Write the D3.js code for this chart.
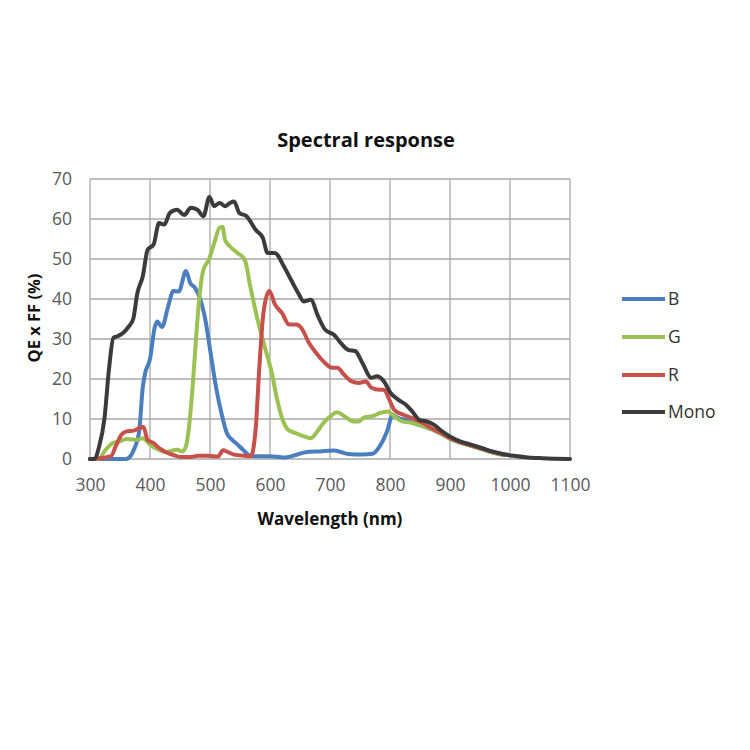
<!DOCTYPE html>
<html><head><meta charset="utf-8">
<script src="https://cdn.jsdelivr.net/npm/d3@7"></script>
<style>body{margin:0;background:#fff}svg{display:block}</style>
</head><body>
<svg id="c" width="750" height="750"></svg>
<script>
const seriesNames = ["B", "G", "R", "Mono"];
const seriesColors = ["#4a7ebf", "#9bc152", "#c8504b", "#3b3b3b"];
const xTicks = [300, 400, 500, 600, 700, 800, 900, 1000, 1100];
const yTicks = [0, 10, 20, 30, 40, 50, 60, 70];

const blue = [[300,0],[360,0],[368,0.8],[373,2.3],[382,7],[388,18],[392,21.5],[400,25],[408,33],[412,34.4],[420,33],[430,38],[439,42],[448,41.9],[460,47],[467,44],[474,43],[483,40.3],[492,35],[501,26.5],[510,18],[519,11.5],[528,6.5],[537,4.8],[546,3.6],[555,2.3],[567,0.8],[576,0.7],[600,0.7],[623,0.4],[647,1.2],[659,1.7],[683,1.9],[707,2.1],[718,1.75],[730,1.25],[754,1.1],[771,1.3],[783,3.2],[796,7.3],[804,11],[814,10.2],[826,9.8],[840,9],[855,8.2],[870,7.4],[887,6.2],[900,5.1],[917,4.1],[935,3.3],[953,2.5],[970,1.7],[990,1.0]];
const green = [[300,0],[314,0],[326,2.3],[338,4],[349,4.4],[361,5],[379,4.8],[388,5.2],[400,3.6],[415,2.3],[427,1.7],[436,2.1],[445,2.3],[454,1.9],[460,3.2],[465,8],[471,18],[477,30.7],[483,41.5],[489,47.3],[498,49.8],[507,54],[516,57.8],[521,58],[525,54.8],[533,53.2],[546,51.5],[558,49.8],[567,43.2],[579,35],[591,28.2],[603,21.5],[612,14.8],[621,9.8],[630,7.3],[642,6.5],[654,5.8],[668,5.2],[677,6.5],[689,9],[701,10.7],[712,11.7],[724,10.7],[739,9.4],[748,9.4],[757,10.4],[771,10.7],[783,11.5],[796,11.9],[807,10.7],[820,9.4],[837,9],[855,8.2],[870,7.4],[887,6.2],[900,5.1],[917,4.1],[935,3.3],[953,2.5],[970,1.7],[990,1.0]];
const red = [[300,0],[320,0.25],[335,0.7],[343,3.2],[352,6],[361,6.9],[373,7.1],[382,7.7],[389,8],[396,4.8],[406,4],[415,2.75],[427,1.7],[439,1],[451,0.5],[468,0.5],[480,0.8],[498,0.8],[513,0.6],[522,2.2],[530,1.7],[540,1.1],[558,0.8],[568,0.7],[576,7.3],[582,22.3],[588,35],[593,40],[599,42],[608,38.7],[620,36.5],[632,33.6],[644,33.6],[652,32.8],[665,29],[677,26.5],[689,24.4],[704,22.8],[712,22.8],[724,21],[736,19.4],[748,19],[760,19.4],[769,17.8],[783,17.3],[790,17.3],[799,14.8],[807,12.3],[823,11],[837,10.2],[855,9],[870,7.6],[887,6.3],[900,5.2],[917,4.2],[935,3.4],[953,2.6],[970,1.8],[990,1.1]];
const mono = [[300,0],[307,0],[315,3],[324,10],[332,23],[339,30.3],[346,30.7],[355,31.5],[364,33],[372,35],[379,41.5],[388,45.7],[396,52.3],[406,53.6],[415,59],[424,58.6],[433,61.5],[445,62.3],[457,61],[468,62.8],[479,62.3],[489,60.7],[499,65.5],[507,63.2],[516,64],[525,63.2],[533,64],[540,64.4],[549,61.5],[561,60.7],[576,57.3],[588,55.3],[596,51.5],[608,51.5],[623,48.2],[635,44.8],[647,41.5],[656,39.4],[668,39.8],[680,35.7],[692,32.3],[707,31],[718,29],[730,27.3],[742,27],[754,24],[769,20.3],[778,20.7],[790,19.4],[801,16.5],[814,14.8],[826,13.6],[837,11.9],[849,9.8],[861,9.4],[873,8.6],[887,6.9],[899,5.7],[917,4.4],[935,3.6],[953,2.75],[970,1.9],[988,1.25],[1006,0.8],[1030,0.4],[1054,0.2],[1100,0]];
const seriesData = [blue, green, red, mono];

const svg = d3.select("#c");
const L = 90, R = 570, T = 179, B = 459;
const x = d3.scaleLinear().domain([300, 1100]).range([L, R]);
const y = d3.scaleLinear().domain([0, 70]).range([B, T]);
const font = "'Open Sans', sans-serif";

// grid
const g = svg.append("g");
g.selectAll("line.v").data(xTicks).join("line")
  .attr("x1", d => x(d)).attr("x2", d => x(d)).attr("y1", T).attr("y2", B)
  .attr("stroke", "#a8a8a8").attr("stroke-width", 1.3);
g.selectAll("line.h").data(yTicks).join("line")
  .attr("y1", d => y(d)).attr("y2", d => y(d)).attr("x1", L).attr("x2", R)
  .attr("stroke", "#a8a8a8").attr("stroke-width", 1.3);

// axes labels via d3 axes
const xAxis = svg.append("g").attr("transform", `translate(0,${B})`)
  .call(d3.axisBottom(x).tickValues(xTicks).tickFormat(d3.format("d")).tickSize(0).tickPadding(20));
const yAxis = svg.append("g").attr("transform", `translate(${L},0)`)
  .call(d3.axisLeft(y).tickValues(yTicks).tickFormat(d3.format("d")).tickSize(0).tickPadding(18));
[xAxis, yAxis].forEach(a => {
  a.select(".domain").remove();
  a.selectAll("text").attr("font-family", font).attr("font-size", 17.5).attr("fill", "#595959");
});

// lines
const line = d3.line().x(d => x(d[0])).y(d => y(d[1])).curve(d3.curveMonotoneX);
svg.append("g").selectAll("path").data(seriesData).join("path")
  .attr("d", line).attr("fill", "none")
  .attr("stroke", (d, i) => seriesColors[i]).attr("stroke-width", 4)
  .attr("stroke-linejoin", "round").attr("stroke-linecap", "round");

// title
svg.append("text").attr("x", 366).attr("y", 147).attr("text-anchor", "middle")
  .attr("font-family", font).attr("font-weight", "bold").attr("font-size", 20).attr("fill", "#111")
  .text("Spectral response");
svg.append("text").attr("x", 330).attr("y", 525).attr("text-anchor", "middle")
  .attr("font-family", font).attr("font-weight", "bold").attr("font-size", 17).attr("fill", "#111")
  .text("Wavelength (nm)");
svg.append("text").attr("transform", "translate(40,318) rotate(-90)").attr("text-anchor", "middle")
  .attr("font-family", font).attr("font-weight", "bold").attr("font-size", 16.5).attr("fill", "#111")
  .text("QE x FF (%)");

// legend
const legY = [299, 337, 375, 412];
const leg = svg.append("g").selectAll("g").data(seriesNames).join("g")
  .attr("transform", (d, i) => `translate(622,${legY[i]})`);
leg.append("line").attr("x1", 0).attr("x2", 43).attr("stroke", (d, i) => seriesColors[i])
  .attr("stroke-width", 4);
leg.append("text").attr("x", 46).attr("dy", "0.35em").attr("font-family", font)
  .attr("font-size", 17.5).attr("fill", "#333").text(d => d);
</script>
</body></html>
